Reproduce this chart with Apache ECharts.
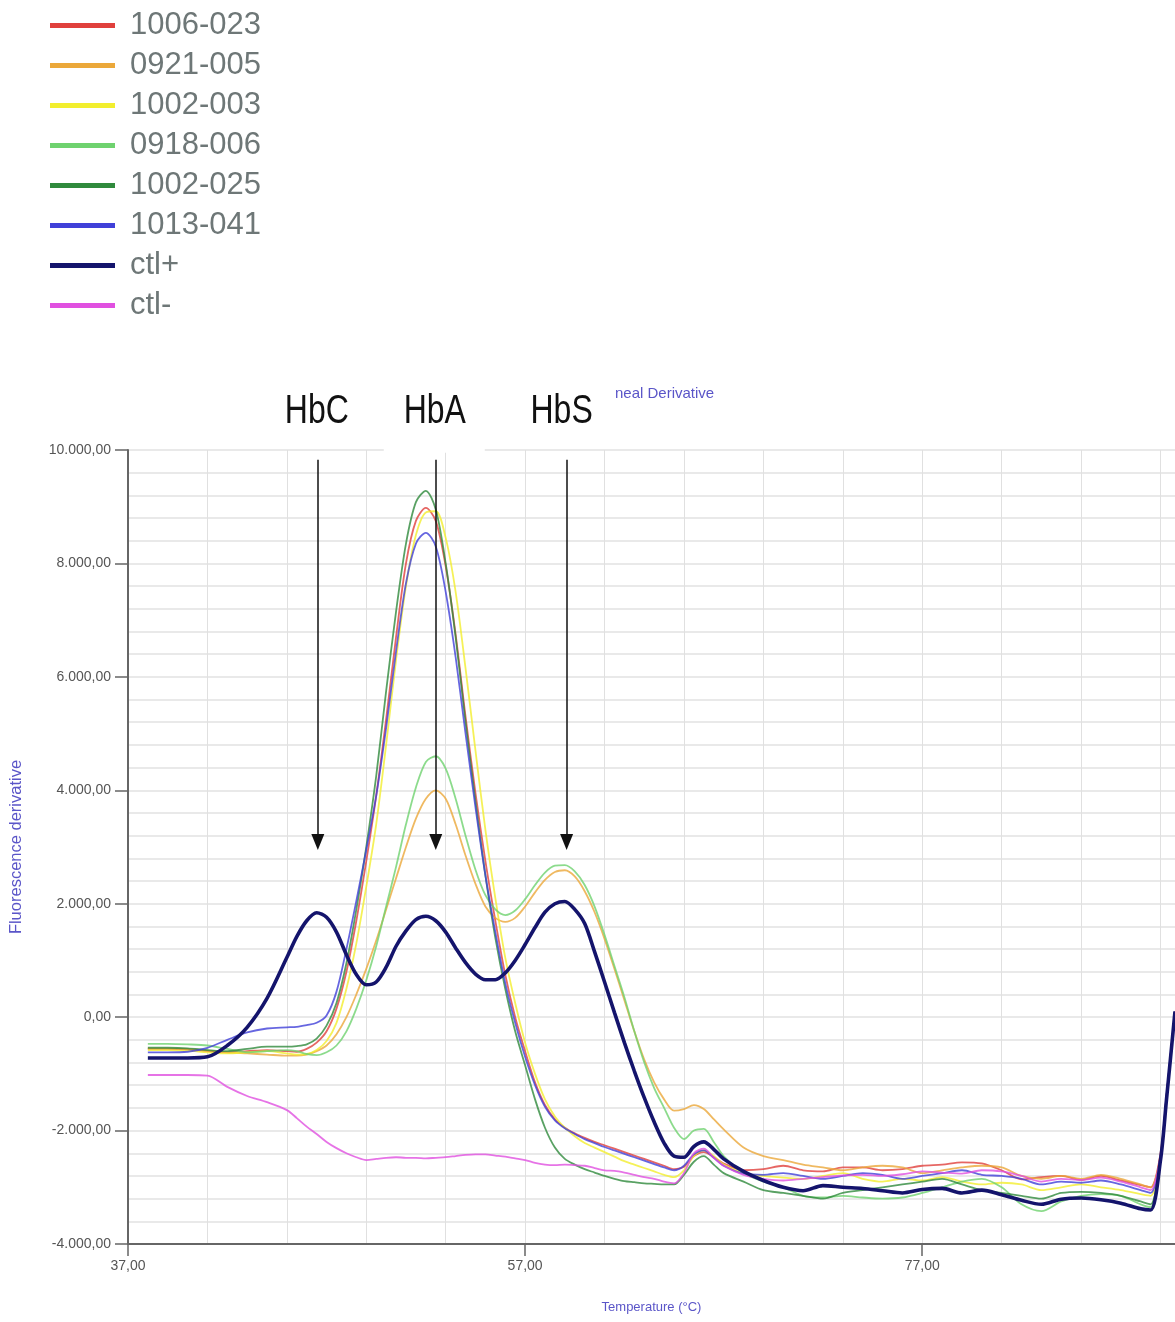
<!DOCTYPE html>
<html>
<head>
<meta charset="utf-8">
<script src="https://cdn.jsdelivr.net/npm/echarts@6/dist/echarts.min.js"></script>
<style>
  html, body { margin: 0; padding: 0; background: #fff; }
  #chart { width: 1175px; height: 1322px; }
</style>
</head>
<body>
<div id="chart"></div>
<script>
// Melting-curve derivative (anneal) of HBB genotyping samples.
const temps = [38, 39, 40, 41, 42, 43, 44, 45,
  45.5, 46, 46.5, 47, 47.5, 48, 48.5, 49, 49.5, 50, 50.5, 51, 51.5, 52, 52.5, 53, 53.5, 54, 54.5, 55,
  55.5, 56, 56.5, 57, 57.5, 58, 58.5, 59, 59.5, 60, 60.5, 61, 61.5, 62, 62.5, 63, 63.5, 64, 64.5, 65,
  65.5, 66, 66.5,
  67, 68, 69, 70, 71, 72, 73, 74, 75, 76, 77, 78, 79, 80, 81, 82, 83, 84, 85, 86, 87, 88,
  88.5, 89, 89.3, 89.73];

const s1006_023 = [-560, -560, -570, -600, -620, -600, -580, -600,
  -610, -560, -450, -250, 150, 800, 1700, 2750, 3900, 5250, 6700, 8000, 8750, 8980, 8750, 7950, 6750, 5300, 3950, 2750,
  1700, 750, 0, -600, -1150, -1550, -1800, -1950, -2050, -2130, -2200, -2260, -2320, -2380, -2440, -2500, -2560, -2620, -2680, -2640,
  -2450, -2380, -2470,
  -2580, -2700, -2680, -2620, -2700, -2720, -2650, -2650, -2700, -2680, -2620, -2600, -2560, -2580, -2700, -2860, -2820, -2800, -2870, -2800, -2880, -2960,
  -3000, -2400, -1400, 100];

const s0921_005 = [-550, -550, -560, -590, -620, -640, -660, -680,
  -680, -660, -600, -500, -300, 0, 400, 850, 1350, 1900, 2450, 3000, 3500, 3850, 4000, 3850, 3400, 2850, 2350, 1950,
  1750, 1680, 1750, 1950, 2200, 2420, 2560, 2590, 2480, 2220, 1850, 1380, 850, 300, -250, -750, -1150, -1450, -1650, -1620,
  -1550, -1620, -1800,
  -1980, -2300, -2450, -2520, -2600, -2650, -2700, -2650, -2620, -2650, -2750, -2700, -2650, -2620, -2650, -2800, -2850, -2800, -2850, -2780, -2850, -2950,
  -3000, -2450, -1420, 100];

const s1002_003 = [-580, -580, -590, -620, -640, -620, -600, -640,
  -660, -650, -580, -420, -100, 500, 1300, 2300, 3400, 4800, 6300, 7600, 8500, 8900, 8920, 8450, 7500, 6150, 4700, 3300,
  2100, 1050, 250, -450, -1000, -1450, -1750, -1950, -2100, -2220, -2300, -2380, -2460, -2540, -2600, -2660, -2720, -2780, -2820, -2700,
  -2450, -2350, -2450,
  -2600, -2750, -2800, -2830, -2850, -2800, -2750, -2850, -2900, -2850, -2880, -2820, -2900, -2950, -2920, -2950, -3050, -3000, -2950, -3000, -3050, -3120,
  -3150, -2500, -1450, 100];

const s0918_006 = [-470, -470, -480, -500, -560, -620, -600, -580,
  -600, -650, -670, -620, -500, -250, 150, 650, 1250, 1950, 2650, 3400, 4050, 4500, 4600, 4380, 3850, 3200, 2600, 2150,
  1900, 1800, 1880, 2080, 2330, 2550, 2670, 2680, 2570, 2330, 1950, 1450, 900, 350, -250, -800, -1250, -1600, -1950, -2150,
  -2000, -1970, -2200,
  -2450, -2750, -2900, -3000, -3150, -3180, -3150, -3180, -3200, -3180, -3100, -3000, -2900, -2850, -3000, -3300, -3420, -3250, -3150, -3120, -3150, -3300,
  -3350, -2500, -1450, 100];

const s1002_025 = [-540, -540, -550, -580, -600, -560, -520, -520,
  -510, -480, -380, -150, 250, 950, 1900, 3000, 4250, 5750, 7150, 8350, 9080, 9280, 8950, 8000, 6700, 5200, 3800, 2500,
  1400, 500, -250, -850, -1450, -1950, -2300, -2500, -2600, -2680, -2740, -2800, -2850, -2890, -2910, -2930, -2940, -2950, -2950, -2780,
  -2550, -2450, -2600,
  -2750, -2900, -3050, -3100, -3150, -3200, -3100, -3050, -3000, -2950, -2900, -2850, -2950, -3050, -3100, -3150, -3200, -3100, -3080, -3100, -3150, -3250,
  -3300, -2480, -1450, 100];

const s1013_041 = [-620, -620, -610, -540, -400, -270, -200, -180,
  -170, -140, -100, 30, 450, 1200, 2050, 2950, 3900, 5100, 6450, 7650, 8350, 8540, 8300, 7500, 6350, 5000, 3700, 2500,
  1500, 600, -100, -700, -1200, -1580, -1820, -1960, -2060, -2150, -2220, -2290, -2350, -2410, -2470, -2530, -2590, -2650, -2700, -2620,
  -2420, -2350, -2480,
  -2620, -2760, -2780, -2750, -2800, -2850, -2800, -2750, -2780, -2850, -2800, -2750, -2700, -2780, -2800, -2850, -2950, -2900, -2920, -2880, -2950, -3050,
  -3100, -2450, -1400, 100];

const sCtlPos = [-720, -720, -720, -700, -500, -180, 330, 1050,
  1420, 1700, 1840, 1760, 1500, 1100, 750, 570, 620, 880, 1250, 1520, 1720, 1780, 1700, 1500, 1220, 960, 760, 660,
  660, 780, 1000, 1280, 1580, 1850, 2000, 2040, 1900, 1650, 1150, 620, 80, -450, -950, -1420, -1850, -2220, -2450, -2470,
  -2280, -2200, -2330,
  -2500, -2720, -2880, -3000, -3060, -2970, -3000, -3020, -3060, -3100, -3040, -3020, -3100, -3050, -3130, -3230, -3300, -3210, -3190, -3220, -3280, -3380,
  -3400, -2520, -1460, 100];

const sCtlNeg = [-1020, -1020, -1020, -1030, -1230, -1390, -1500, -1640,
  -1780, -1930, -2060, -2200, -2310, -2400, -2470, -2520, -2500, -2480, -2470, -2480, -2480, -2490, -2480, -2470, -2450, -2430, -2420, -2420,
  -2440, -2460, -2490, -2520, -2570, -2600, -2610, -2600, -2610, -2620, -2660, -2700, -2710, -2740, -2780, -2820, -2850, -2900, -2930, -2750,
  -2400, -2320, -2480,
  -2620, -2780, -2850, -2880, -2850, -2820, -2790, -2780, -2800, -2770, -2720, -2740, -2760, -2700, -2720, -2800, -2900, -2850, -2870, -2830, -2900, -3000,
  -3050, -2450, -1420, 100];

const sampleNames = ['1006-023', '0921-005', '1002-003', '0918-006', '1002-025', '1013-041', 'ctl+', 'ctl-'];
const sampleValues = [s1006_023, s0921_005, s1002_003, s0918_006, s1002_025, s1013_041, sCtlPos, sCtlNeg];
const sampleColors = ['#e0403c', '#eba83a', '#f2ee2e', '#6fd26f', '#2f8a3c', '#4040d8', '#14146c', '#e050e0'];

// Peak annotations: label, melting temperature, arrow top / arrowhead centre
const peakNames = ['HbC', 'HbA', 'HbS'];
const peakTemps = [46.56, 52.5, 59.09];
const arrowTop = 9830;
const arrowTip = 3090;

sampleValues.forEach(function (v, i) {
  if (v.length !== temps.length) throw new Error(sampleNames[i] + ' has ' + v.length + ' values');
});

const SANS = "'Liberation Sans', Arial, sans-serif";
const X_MIN = 37, X_MAX = 89.73;

function euro(v) {
  const neg = v < 0;
  const parts = Math.abs(v).toFixed(2).split('.');
  const intPart = parts[0].replace(/\B(?=(\d{3})+(?!\d))/g, '.');
  return (neg ? '-' : '') + intPart + ',' + parts[1];
}

const series = sampleNames.map(function (name, i) {
  const isCtl = name === 'ctl+';
  return {
    name: name,
    type: 'line',
    xAxisIndex: 0,
    yAxisIndex: 1,
    data: temps.map(function (t, k) { return [t, sampleValues[i][k]]; }),
    showSymbol: false,
    smooth: 0.3,
    lineStyle: { color: sampleColors[i], width: isCtl ? 3.6 : 1.8, opacity: isCtl ? 1 : 0.8 },
    itemStyle: { color: sampleColors[i] },
    emphasis: { disabled: true },
    animation: false,
    z: isCtl ? 4 : 3
  };
});

// Arrows pointing at the three melting peaks
series.push({
  name: 'peaks',
  type: 'line',
  xAxisIndex: 0,
  yAxisIndex: 1,
  data: [],
  silent: true,
  animation: false,
  markLine: {
    silent: true,
    animation: false,
    symbol: ['none', 'triangle'],
    symbolSize: [13, 16],
    lineStyle: { color: '#111', width: 1.5, type: 'solid' },
    label: { show: false },
    data: peakNames.map(function (n, i) {
      return [{ name: n, coord: [peakTemps[i], arrowTop] }, { coord: [peakTemps[i], arrowTip] }];
    })
  }
});

const chart = echarts.init(document.getElementById('chart'), null, { renderer: 'canvas' });
chart.setOption({
  backgroundColor: '#fff',
  animation: false,
  title: {
    text: 'neal Derivative',
    left: 610,
    top: 381,
    textStyle: { color: '#5a55c8', fontSize: 15, fontWeight: 'normal', fontFamily: SANS }
  },
  legend: {
    data: sampleNames,
    orient: 'vertical',
    left: 45,
    top: 5,
    icon: 'rect',
    itemWidth: 65,
    itemHeight: 5,
    itemGap: 9,
    selectedMode: false,
    textStyle: {
      fontFamily: SANS,
      fontSize: 31,
      color: '#6e7777',
      padding: [0, 0, 0, 10]
    }
  },
  grid: { left: 127, right: 0, top: 450, bottom: 78, containLabel: false },
  xAxis: [
    {
      type: 'value',
      min: X_MIN, max: X_MAX, interval: 4,
      position: 'bottom',
      axisLine: { show: true, onZero: false, lineStyle: { color: '#666', width: 2 } },
      axisTick: { show: false },
      axisLabel: { show: false },
      splitLine: { show: true, lineStyle: { color: '#e0e0e0', width: 1 } },
      name: 'Temperature (°C)',
      nameLocation: 'middle',
      nameGap: 57,
      nameTextStyle: { color: '#5a55c8', fontSize: 13, fontFamily: SANS }
    },
    {
      type: 'value',
      min: X_MIN, max: X_MAX, interval: 20,
      position: 'bottom',
      axisLine: { show: false, onZero: false },
      axisTick: { show: true, length: 12, lineStyle: { color: '#666', width: 1.5 } },
      axisLabel: {
        show: true, margin: 15, showMaxLabel: false,
        color: '#555', fontSize: 14, fontFamily: SANS,
        formatter: function (v) { return euro(v); }
      },
      splitLine: { show: false }
    }
  ],
  yAxis: [
    {
      type: 'value',
      min: -4000, max: 10000, interval: 400,
      position: 'left',
      axisLine: { show: true, onZero: false, lineStyle: { color: '#666', width: 2 } },
      axisTick: { show: false },
      axisLabel: { show: false },
      splitLine: { show: true, lineStyle: { color: '#e2e2e2', width: 1.6 } }
    },
    {
      type: 'value',
      min: -4000, max: 10000, interval: 2000,
      position: 'left',
      axisLine: { show: false, onZero: false },
      axisTick: { show: true, length: 13, lineStyle: { color: '#666', width: 1.5 } },
      axisLabel: {
        show: true, margin: 17,
        color: '#555', fontSize: 14, fontFamily: SANS,
        formatter: function (v) { return euro(v); }
      },
      splitLine: { show: false },
      name: 'Fluorescence derivative',
      nameLocation: 'middle',
      nameGap: 103,
      nameRotate: 90,
      nameTextStyle: { color: '#5a55c8', fontSize: 16.5, fontFamily: SANS }
    }
  ],
  series: series
});

// Peak names above the arrows, in a condensed face; HbA sits on a white card
const labelLift = 48;
const graphics = [];
peakNames.forEach(function (n, i) {
  const p = chart.convertToPixel({ xAxisIndex: 0, yAxisIndex: 1 }, [peakTemps[i], arrowTop]);
  const cx = n === 'HbS' ? p[0] - 5 : p[0] - 1;
  if (n === 'HbA') {
    graphics.push({
      type: 'rect',
      z: 100,
      silent: true,
      shape: { x: p[0] - 52, y: p[1] - 76, width: 101, height: 69 },
      style: { fill: '#fff' }
    });
  }
  graphics.push({
    type: 'text',
    z: 101,
    silent: true,
    x: cx,
    y: p[1] - labelLift,
    scaleX: 0.78,
    style: {
      text: n,
      x: 0,
      y: 0,
      fill: '#111',
      font: '41px ' + SANS,
      align: 'center',
      verticalAlign: 'middle'
    }
  });
});
chart.setOption({ graphic: graphics });
</script>
</body>
</html>
